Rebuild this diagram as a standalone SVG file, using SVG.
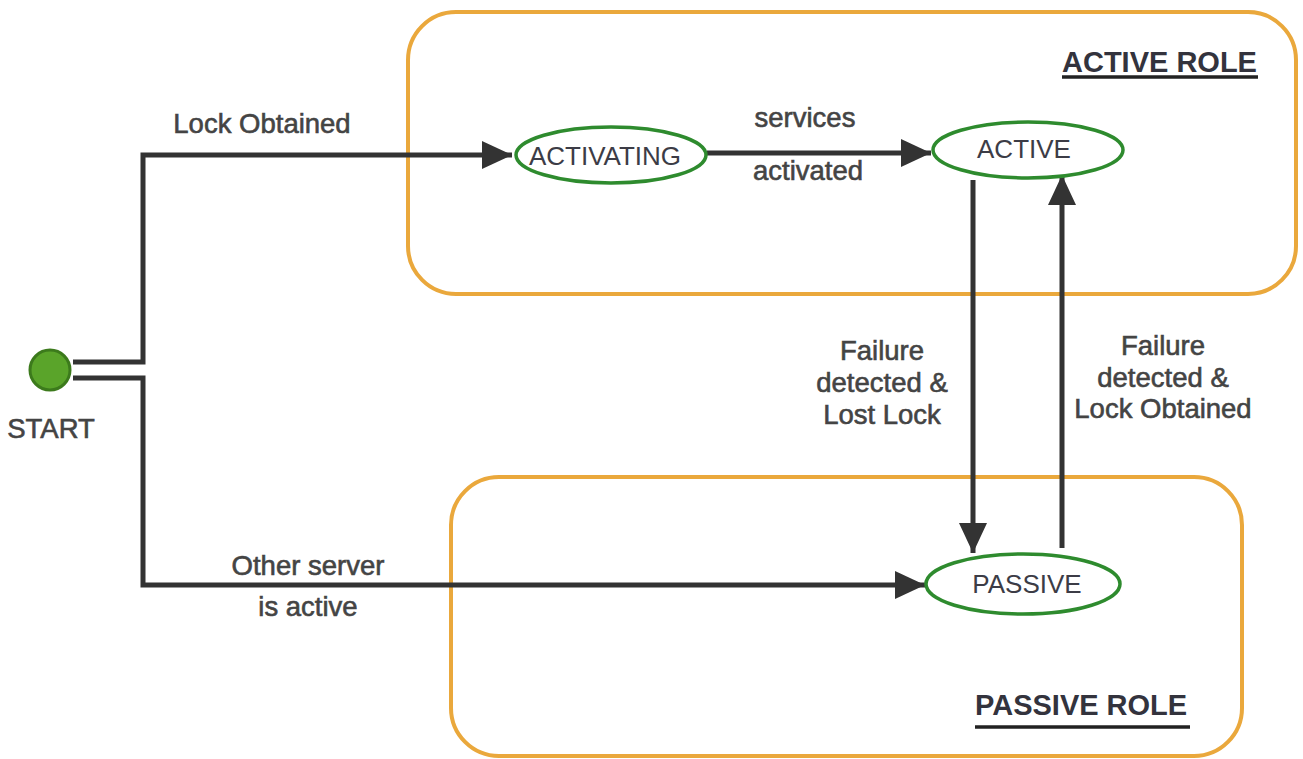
<svg xmlns="http://www.w3.org/2000/svg" width="1303" height="759" viewBox="0 0 1303 759">
<style>
.role{fill:none;stroke:#eaa83c;stroke-width:4}
.state{fill:#fff;stroke:#2e8b2e;stroke-width:3.5}
.st{font-family:"Liberation Sans",Arial,sans-serif;font-size:26px;fill:#3c3c46;text-anchor:middle}
.lbl{font-family:"Liberation Sans",Arial,sans-serif;font-size:27.5px;fill:#444;stroke:#444;stroke-width:0.6;text-anchor:middle}
.title{font-family:"Liberation Sans",Arial,sans-serif;font-size:29px;font-weight:bold;fill:#33333d;text-anchor:start}
.ul{stroke:#222;stroke-width:3.5}
.conn{fill:none;stroke:#333;stroke-width:5}
</style>
<defs>
<marker id="arr" markerUnits="userSpaceOnUse" markerWidth="32" markerHeight="30" refX="30" refY="14" orient="auto">
<polygon points="0,0 30,14 0,28" fill="#333"/>
</marker>
</defs>
<rect width="1303" height="759" fill="#fff"/>
<g id="active-role">
<rect class="role" x="408" y="12" width="888" height="282" rx="48" ry="48"/>
<text class="title" x="1062" y="72">ACTIVE ROLE</text>
<line class="ul" x1="1062" y1="77" x2="1258" y2="77"/>
</g>
<g id="passive-role">
<rect class="role" x="451" y="477" width="791" height="279" rx="48" ry="48"/>
<text class="title" x="975" y="715">PASSIVE ROLE</text>
<line class="ul" x1="975" y1="727" x2="1190" y2="727"/>
</g>
<g id="connectors">
<polyline class="conn" points="73,362 143,362 143,155 512,155" marker-end="url(#arr)"/>
<polyline class="conn" points="73,378 143,378 143,585 925,585" marker-end="url(#arr)"/>
<line class="conn" x1="707" y1="153" x2="931" y2="153" marker-end="url(#arr)"/>
<line class="conn" x1="973" y1="180" x2="973" y2="553" marker-end="url(#arr)"/>
<line class="conn" x1="1062" y1="548" x2="1062" y2="175" marker-end="url(#arr)"/>
<text class="lbl" x="262" y="133">Lock Obtained</text>
<text class="lbl" x="805" y="127">services</text>
<text class="lbl" x="808" y="180">activated</text>
<text class="lbl" x="882" y="360">Failure</text>
<text class="lbl" x="882" y="392">detected &amp;</text>
<text class="lbl" x="882" y="424">Lost Lock</text>
<text class="lbl" x="1163" y="355">Failure</text>
<text class="lbl" x="1163" y="387">detected &amp;</text>
<text class="lbl" x="1163" y="418">Lock Obtained</text>
<text class="lbl" x="308" y="575">Other server</text>
<text class="lbl" x="308" y="616">is active</text>
</g>
<g id="start">
<circle cx="50" cy="370" r="20" fill="#5aa42a" stroke="#3c7a1c" stroke-width="3"/>
<text class="lbl" x="51" y="438">START</text>
</g>
<g id="activating">
<ellipse class="state" cx="611" cy="155" rx="95" ry="28"/>
<text class="st" x="605" y="165">ACTIVATING</text>
</g>
<g id="active">
<ellipse class="state" cx="1028" cy="150" rx="95" ry="28"/>
<text class="st" x="1024" y="158">ACTIVE</text>
</g>
<g id="passive">
<ellipse class="state" cx="1023" cy="584" rx="97" ry="30"/>
<text class="st" x="1027" y="593">PASSIVE</text>
</g>
</svg>
